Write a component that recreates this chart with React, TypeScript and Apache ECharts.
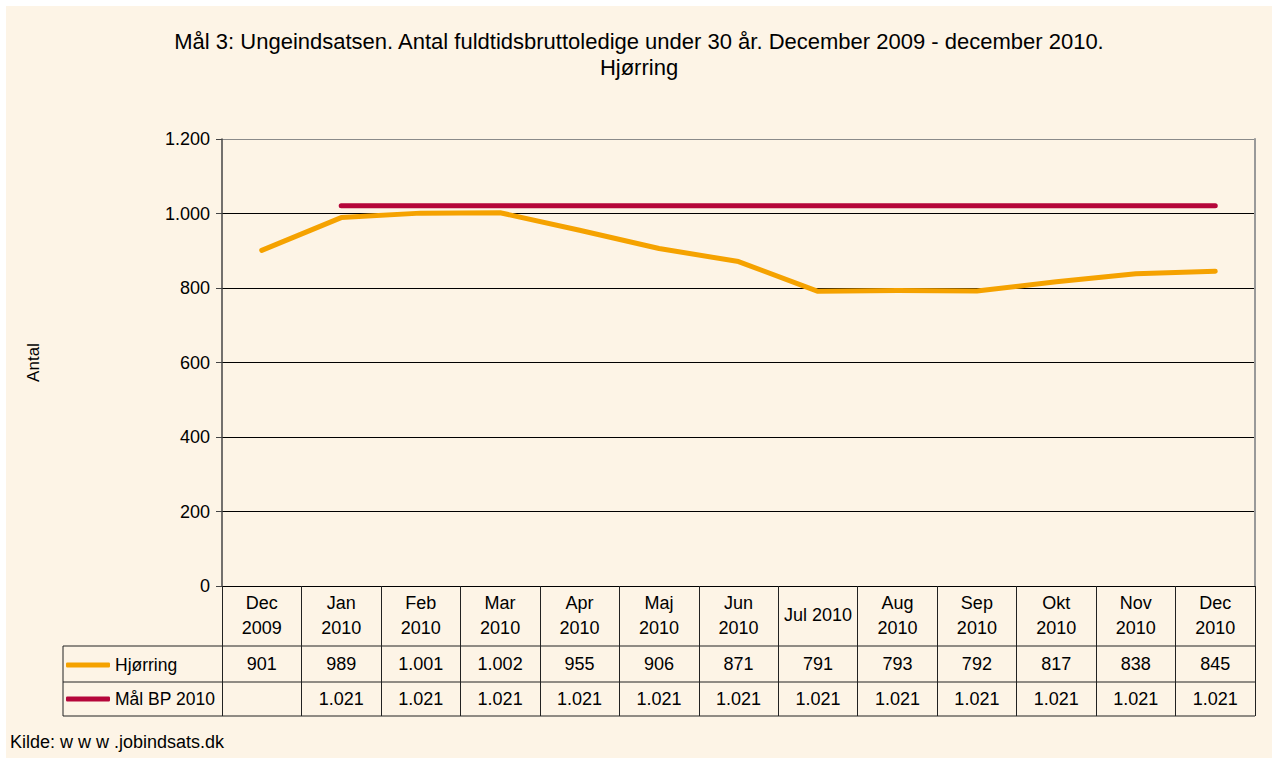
import React, { useEffect, useRef } from "react";
import * as echarts from "echarts";

const categories = [
  "Dec\n2009", "Jan\n2010", "Feb\n2010", "Mar\n2010", "Apr\n2010", "Maj\n2010", "Jun\n2010",
  "Jul 2010", "Aug\n2010", "Sep\n2010", "Okt\n2010", "Nov\n2010", "Dec\n2010",
];
const hjorring = [901, 989, 1001, 1002, 955, 906, 871, 791, 793, 792, 817, 838, 845];
const malBP = [null, 1021, 1021, 1021, 1021, 1021, 1021, 1021, 1021, 1021, 1021, 1021, 1021];
const yTicks = [0, 200, 400, 600, 800, 1000, 1200];

const FONT = "'Liberation Sans', Arial, sans-serif";
const FS = 18;
const fmt = (v: number | null) =>
  v === null || v === undefined ? "" : String(v).replace(/\B(?=(\d{3})+(?!\d))/g, ".");

// layout (chart-local px)
const W = 1266, H = 752;
const GL = 216, GT = 133, GW = 1033, GH = 447;
const ROW1 = 640, ROW2 = 676, ROW3 = 710, TL = 57;

export default function App() {
  const ref = useRef<HTMLDivElement>(null);
  useEffect(() => {
    document.body.style.margin = "0";
    if (!ref.current) return;
    const chart = echarts.init(ref.current, null, { renderer: "svg" });
    const lineCol = "#222";
    chart.setOption({
      animation: false,
      backgroundColor: "#FDF4E6",
      textStyle: { fontFamily: FONT, color: "#000" },
      title: {
        text: "Mål 3: Ungeindsatsen. Antal fuldtidsbruttoledige under 30 år. December 2009 - december 2010.\nHjørring",
        left: "center",
        top: 22,
        padding: 0,
        textStyle: { fontFamily: FONT, fontSize: 22, fontWeight: "normal", color: "#000", lineHeight: 26, align: "center" },
      },
      legend: [
        {
          data: ["Hjørring"], left: TL + 3, top: 650, orient: "vertical", icon: "roundRect",
          itemWidth: 44, itemHeight: 5, padding: 0,
          textStyle: { fontFamily: FONT, fontSize: 17.5, color: "#000" },
        },
        {
          data: ["Mål BP 2010"], left: TL + 3, top: 684, orient: "vertical", icon: "roundRect",
          itemWidth: 44, itemHeight: 5, padding: 0,
          textStyle: { fontFamily: FONT, fontSize: 17.5, color: "#000" },
        },
      ],
      grid: { left: GL, top: GT, width: GW, height: GH, containLabel: false },
      xAxis: [
        {
          type: "category", data: categories, position: "bottom", boundaryGap: true,
          axisLine: { show: true, lineStyle: { color: "#000", width: 1 } },
          axisTick: { show: true, length: ROW3 - (GT + GH), interval: 0, lineStyle: { color: lineCol } },
          axisLabel: { interval: 0, margin: 29, verticalAlign: "middle", fontSize: FS, lineHeight: 25, color: "#000", fontFamily: FONT },
          splitLine: { show: false },
        },
        {
          type: "category", data: categories, position: "bottom", boundaryGap: true,
          axisLine: { show: false }, axisTick: { show: false },
          axisLabel: { interval: 0, margin: 78, verticalAlign: "middle", fontSize: FS, color: "#000", fontFamily: FONT,
            formatter: (_v: string, i: number) => fmt(hjorring[i]) },
        },
        {
          type: "category", data: categories, position: "bottom", boundaryGap: true,
          axisLine: { show: false }, axisTick: { show: false },
          axisLabel: { interval: 0, margin: 113, verticalAlign: "middle", fontSize: FS, color: "#000", fontFamily: FONT,
            formatter: (_v: string, i: number) => fmt(malBP[i]) },
        },
      ],
      yAxis: [
        {
          type: "value", min: 0, max: 1200, interval: 200,
          name: "Antal", nameLocation: "middle", nameRotate: 90, nameGap: 180,
          nameTextStyle: { fontSize: 17, fontFamily: FONT, color: "#000" },
          axisLine: { show: true, lineStyle: { color: "#444", width: 1.5 } },
          axisTick: { show: true, length: 6, lineStyle: { color: "#444" } },
          axisLabel: { margin: 12, fontSize: FS, color: "#000", fontFamily: FONT, formatter: (v: number) => fmt(v) },
          splitLine: { show: true, lineStyle: { color: yTicks.map((t) => (t === 1200 ? "#8a8a8a" : "#000")), width: 1 } },
        },
        {
          type: "value", min: 0, max: 1200, interval: 200, position: "right",
          axisLine: { show: true, lineStyle: { color: "#999", width: 2 } },
          axisTick: { show: false }, axisLabel: { show: false }, splitLine: { show: false },
        },
      ],
      series: [
        {
          name: "Hjørring", type: "line", data: hjorring, xAxisIndex: 0, yAxisIndex: 0,
          showSymbol: false, symbol: "none", color: "#F5A200",
          lineStyle: { width: 5, color: "#F5A200", cap: "round", join: "round" }, z: 3,
        },
        {
          name: "Mål BP 2010", type: "line", data: malBP, xAxisIndex: 0, yAxisIndex: 0,
          showSymbol: false, symbol: "none", color: "#B5063A",
          lineStyle: { width: 5, color: "#B5063A", cap: "round" }, z: 4,
        },
      ],
      graphic: [
        { type: "line", silent: true, shape: { x1: TL, y1: ROW1, x2: GL + GW, y2: ROW1 }, style: { stroke: lineCol, lineWidth: 1 } },
        { type: "line", silent: true, shape: { x1: TL, y1: ROW2, x2: GL + GW, y2: ROW2 }, style: { stroke: lineCol, lineWidth: 1 } },
        { type: "line", silent: true, shape: { x1: TL, y1: ROW3, x2: GL + GW, y2: ROW3 }, style: { stroke: lineCol, lineWidth: 1 } },
        { type: "line", silent: true, shape: { x1: TL, y1: ROW1, x2: TL, y2: ROW3 }, style: { stroke: lineCol, lineWidth: 1 } },
        {
          type: "text", silent: true, left: 4, top: 727,
          style: { text: "Kilde: w w w .jobindsats.dk", fontSize: 18, fontFamily: FONT, fill: "#000" },
        },
      ],
    });
    return () => chart.dispose();
  }, []);
  return (
    <div style={{ width: 1272, height: 758, background: "#fff", position: "relative" }}>
      <div ref={ref} style={{ position: "absolute", left: 6, top: 6, width: W, height: H }} />
    </div>
  );
}
